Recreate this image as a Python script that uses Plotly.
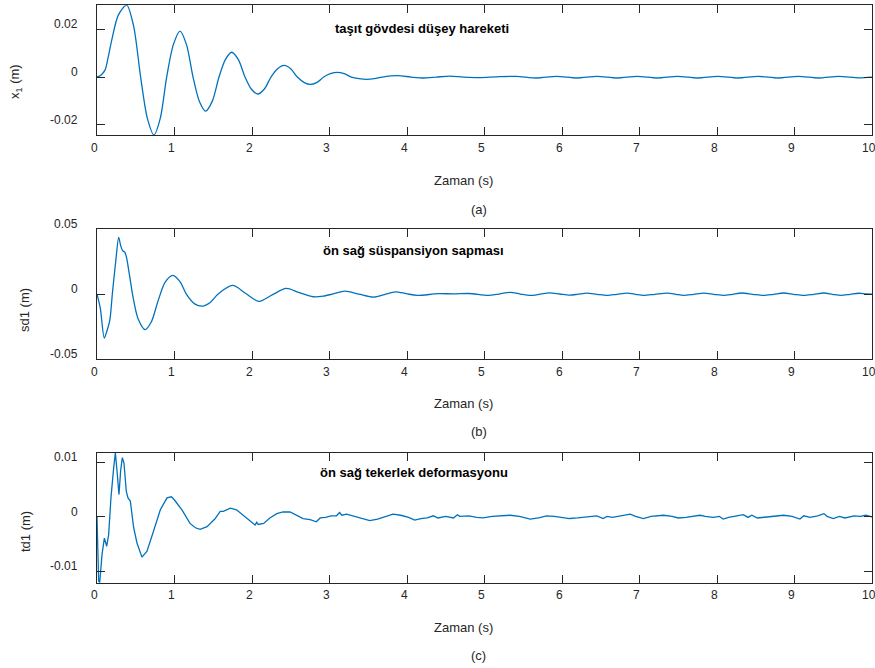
import plotly.graph_objects as go

# ---------------- data ----------------
# (a) taşıt gövdesi düşey hareketi : x1 (m)
t_a = [0, 0.05, 0.103, 0.145, 0.19, 0.275, 0.383, 0.473, 0.563, 0.649,
       0.735, 0.817, 0.899, 0.985, 1.071, 1.155, 1.239, 1.32, 1.402, 1.488,
       1.574, 1.656, 1.738, 1.824, 1.91, 1.99, 2.073, 2.16, 2.245, 2.33,
       2.417, 2.50, 2.585, 2.67, 2.75, 2.84, 2.925, 3.01, 3.10, 3.19,
       3.28, 3.38, 3.48, 3.58, 3.68, 3.88, 4.05, 4.21, 4.38, 4.55,
       4.73, 4.95, 5.15, 5.41, 5.67, 5.93, 6.19, 6.45, 6.71, 6.97,
       7.23, 7.49, 7.75, 8.01, 8.27, 8.53, 8.79, 9.05, 9.31, 9.57,
       9.83, 10.0]
x1 = [0, 0.0008, 0.0029, 0.0085, 0.0155, 0.0260, 0.0302, 0.0213, 0.0, -0.0172,
      -0.0243, -0.0172, 0.0, 0.0136, 0.0193, 0.0136, 0.0, -0.0101, -0.0143, -0.0101,
      0.0, 0.0073, 0.0104, 0.0073, 0.0, -0.0050, -0.0071, -0.0050, 0.0, 0.0035,
      0.0049, 0.0035, 0.0, -0.0022, -0.0031, -0.0022, 0.0, 0.0014, 0.0020, 0.0014,
      0.0, -0.0007, -0.0010, -0.0007, 0.0, 0.0006, 0.0, -0.0004, 0.0, 0.0004,
      0.0, -0.0002, 0.0001, 0.0003, -0.0004, 0.0003, -0.0004, 0.0003, -0.0004, 0.0003,
      -0.0004, 0.0003, -0.0004, 0.0003, -0.0004, 0.0003, -0.0004, 0.0003, -0.0004, 0.0003,
      -0.0003, 0.0]

# (b) ön sağ süspansiyon sapması : sd1 (m)
t_b = [0, 0.043, 0.094, 0.13, 0.165, 0.20, 0.245, 0.28, 0.305, 0.33,
       0.36, 0.38, 0.42, 0.465, 0.53, 0.62, 0.70, 0.79, 0.88, 0.98,
       1.075, 1.153, 1.26, 1.37, 1.46, 1.56, 1.75, 1.92, 2.09, 2.26,
       2.44, 2.60, 2.79, 2.92, 3.05, 3.20, 3.38, 3.57, 3.71, 3.85,
       3.99, 4.13, 4.40, 4.60, 4.80, 5.05, 5.19, 5.33, 5.46, 5.59,
       5.72, 5.84, 5.97, 6.10, 6.21, 6.32, 6.45, 6.58, 6.71, 6.84,
       6.95, 7.05, 7.20, 7.36, 7.47, 7.57, 7.70, 7.83, 7.96, 8.09,
       8.20, 8.32, 8.46, 8.60, 8.73, 8.86, 8.99, 9.12, 9.25, 9.38,
       9.49, 9.60, 9.72, 9.83, 9.92, 10.0]
sd1 = [0, -0.011, -0.0338, -0.028, -0.0202, 0.0015, 0.0272, 0.0438, 0.0375, 0.0336,
       0.0323, 0.0285, 0.0144, -0.0023, -0.019, -0.0274, -0.0215, -0.0048, 0.0092, 0.0144,
       0.0092, 0.0, -0.0075, -0.0092, -0.0065, 0.0, 0.0067, 0.0005, -0.0056, -0.0006,
       0.0044, 0.0014, -0.0020, -0.0015, 0.0002, 0.0023, 0.0, -0.0023, -0.0003, 0.0018,
       0.0004, -0.0010, 0.0004, 0.0002, 0.0005, -0.0010, 0.0001, 0.0013, 0.0001, -0.0010,
       0.0, 0.0010, 0.0001, -0.0008, 0.0, 0.0008, -0.0001, -0.0010, -0.0001, 0.0008,
       -0.0001, -0.0010, -0.0001, 0.0008, -0.0001, -0.0010, -0.0001, 0.0008, -0.0001, -0.0010,
       -0.0001, 0.0009, -0.0001, -0.0010, -0.0001, 0.0009, -0.0001, -0.0010, -0.0001, 0.0009,
       -0.0001, -0.0010, -0.0001, 0.0007, 0.0002, 0.0]

# (c) ön sağ tekerlek deformasyonu : td1 (m)
t_c = [0, 0.021, 0.035, 0.065, 0.095, 0.125, 0.15, 0.18, 0.215, 0.237,
       0.262, 0.284, 0.305, 0.327, 0.348, 0.378, 0.40, 0.43, 0.473, 0.516,
       0.58, 0.645, 0.73, 0.817, 0.903, 0.96, 1.0, 1.1, 1.2, 1.27,
       1.33, 1.42, 1.52, 1.56, 1.59, 1.63, 1.72, 1.80, 1.86, 1.93,
       2.0, 2.04, 2.06, 2.08, 2.15, 2.23, 2.32, 2.40, 2.49, 2.57,
       2.66, 2.75, 2.83, 2.88, 2.95, 3.02, 3.09, 3.13, 3.16, 3.22,
       3.30, 3.40, 3.52, 3.62, 3.72, 3.82, 3.92, 4.02, 4.10, 4.18,
       4.26, 4.34, 4.40, 4.50, 4.60, 4.65, 4.68, 4.80, 4.90, 4.98,
       5.10, 5.20, 5.33, 5.45, 5.59, 5.70, 5.80, 5.90, 6.0, 6.10,
       6.20, 6.35, 6.45, 6.53, 6.58, 6.65, 6.75, 6.88, 6.95, 7.05,
       7.15, 7.31, 7.42, 7.50, 7.60, 7.70, 7.78, 7.85, 7.95, 8.03,
       8.08, 8.15, 8.25, 8.34, 8.40, 8.45, 8.52, 8.60, 8.70, 8.86,
       8.97, 9.07, 9.12, 9.20, 9.30, 9.38, 9.42, 9.50, 9.58, 9.65,
       9.77, 9.85, 9.92, 10.0]
td1 = [0, -0.0118, -0.0121, -0.0069, -0.0039, -0.0054, -0.0033, 0.0035, 0.0090, 0.0118,
       0.0078, 0.0041, 0.0085, 0.0109, 0.0099, 0.0047, 0.0035, 0.0029, -0.0020, -0.0048,
       -0.0074, -0.0063, -0.0026, 0.0013, 0.0035, 0.0037, 0.0031, 0.0012, -0.0012, -0.0020,
       -0.0023, -0.0018, -0.0004, 0.0004, 0.0010, 0.0010, 0.0016, 0.0013, 0.0006, -0.0003,
       -0.0012, -0.0015, -0.0010, -0.0014, -0.0012, -0.0002, 0.0006, 0.0009, 0.0009, 0.0004,
       -0.0003, -0.0005, -0.0009, -0.0002, -0.0001, 0.0002, 0.0002, 0.0008, 0.0003, 0.0005,
       0.0002, -0.0003, -0.0007, -0.0004, 0.0001, 0.0005, 0.0003, -0.0001, -0.0006, -0.0003,
       -0.0002, 0.0002, -0.0002, 0.0001, -0.0002, 0.0004, 0.0001, 0.0002, -0.0001, -0.0002,
       0.0001, 0.0002, 0.0003, 0.0001, -0.0004, -0.0002, 0.0002, 0.0001, -0.0001, -0.0003,
       -0.0002, 0.0001, 0.0002, -0.0003, 0.0001, -0.0001, 0.0002, 0.0005, 0.0001, -0.0003,
       0.0001, 0.0003, 0.0001, -0.0002, -0.0001, 0.0001, 0.0003, 0.0001, -0.0001, 0.0001,
       -0.0004, -0.0001, 0.0001, 0.0004, -0.0001, 0.0003, -0.0002, -0.0001, 0.0001, 0.0003,
       0.0001, -0.0004, 0.0002, -0.0001, 0.0002, 0.0006, 0.0001, -0.0003, 0.0001, -0.0002,
       0.0002, 0.0001, 0.0003, 0.0]

x_ticks = [0, 1, 2, 3, 4, 5, 6, 7, 8, 9, 10]
x_ticklabels = ["0", "1", "2", "3", "4", "5", "6", "7", "8", "9", "10"]
y_ticks_a = [-0.02, 0, 0.02]
y_ticks_b = [-0.05, 0, 0.05]
y_ticks_c = [-0.01, 0, 0.01]
y_ticklabels_a = ["-0.02", "0", "0.02"]
y_ticklabels_b = ["-0.05", "0", "0.05"]
y_ticklabels_c = ["-0.01", "0", "0.01"]
y_ranges = [[-0.0243, 0.0301], [-0.05, 0.05], [-0.0121, 0.0118]]

panel_titles = ["taşıt gövdesi düşey hareketi", "ön sağ süspansiyon sapması",
                "ön sağ tekerlek deformasyonu"]
y_titles = ["x<sub>1</sub> (m)", "sd1 (m)", "td1 (m)"]
x_title = "Zaman (s)"
captions = ["(a)", "(b)", "(c)"]

# ---------------- layout helpers ----------------
W, H = 875, 668
def px(x):
    return x / W
def py(y):
    return 1 - y / H

FONT = "Arial, Liberation Sans, Helvetica, sans-serif"
TXT = "#262626"
LINE = "#0072BD"

# panel pixel boxes: (top, bottom)
boxes = [(5.3, 135), (229.3, 359), (452.7, 582.7)]
x_left, x_right = 97, 872

fig = go.Figure()
series = [(t_a, x1, "spline", 0.8), (t_b, sd1, "spline", 0.8), (t_c, td1, "linear", 0)]
for i, (tt, vv, shape, sm) in enumerate(series):
    sfx = "" if i == 0 else str(i + 1)
    line = dict(color=LINE, width=1.3, shape=shape)
    if shape == "spline":
        line["smoothing"] = sm
    fig.add_trace(go.Scatter(x=tt, y=vv, mode="lines", line=line,
                             xaxis="x" + sfx, yaxis="y" + sfx, showlegend=False,
                             cliponaxis=True))

y_tick_sets = [(y_ticks_a, y_ticklabels_a), (y_ticks_b, y_ticklabels_b),
               (y_ticks_c, y_ticklabels_c)]

annotations = []
layout = dict(width=W, height=H, margin=dict(l=0, r=0, t=0, b=0),
              paper_bgcolor="white", plot_bgcolor="white",
              font=dict(family=FONT, size=12, color=TXT), showlegend=False)

x_ticklabel_y = [148, 372, 595]
x_title_y = [180, 403, 627]
caption_y = [209, 431, 655]
title_pos = [(421.5, 28), (413.5, 250), (414, 472)]
ytitle_pos = [(15, 82), (25, 310), (25, 532)]

for i in range(3):
    sfx = "" if i == 0 else str(i + 1)
    top, bot = boxes[i]
    layout["xaxis" + sfx] = dict(
        domain=[px(x_left), px(x_right)], anchor="y" + sfx,
        range=[0, 10], tickvals=x_ticks, ticks="inside", ticklen=8,
        tickwidth=1, tickcolor=TXT, showline=True, linecolor=TXT, linewidth=1,
        mirror="ticks", showgrid=False, zeroline=False, showticklabels=False)
    yt, yl = y_tick_sets[i]
    layout["yaxis" + sfx] = dict(
        domain=[py(bot), py(top)], anchor="x" + sfx,
        range=y_ranges[i], tickvals=yt, ticks="inside", ticklen=8,
        tickwidth=1, tickcolor=TXT, showline=True, linecolor=TXT, linewidth=1,
        mirror="ticks", showgrid=False, zeroline=False, showticklabels=False)
    # x tick labels
    for v, lab in zip(x_ticks, x_ticklabels):
        annotations.append(dict(text=lab, xref="x" + sfx, yref="paper",
                                x=v, y=py(x_ticklabel_y[i]), xanchor="center",
                                yanchor="middle", xshift=-3, showarrow=False,
                                font=dict(family=FONT, size=12, color=TXT)))
    # y tick labels (slightly raised, as in the reference)
    for v, lab in zip(yt, yl):
        annotations.append(dict(text=lab, xref="paper", yref="y" + sfx,
                                x=px(80), y=v, xanchor="right", yanchor="middle",
                                yshift=5, showarrow=False,
                                font=dict(family=FONT, size=12, color=TXT)))
    # in-plot bold title
    tx, ty = title_pos[i]
    annotations.append(dict(text="<b>" + panel_titles[i] + "</b>", xref="paper", yref="paper",
                            x=px(tx), y=py(ty), xanchor="center", yanchor="middle",
                            showarrow=False, font=dict(family=FONT, size=13, color="black")))
    # y title
    yx, yy = ytitle_pos[i]
    annotations.append(dict(text=y_titles[i], xref="paper", yref="paper",
                            x=px(yx), y=py(yy), xanchor="center", yanchor="middle",
                            textangle=-90, showarrow=False,
                            font=dict(family=FONT, size=13, color=TXT)))
    # x title
    annotations.append(dict(text=x_title, xref="paper", yref="paper",
                            x=px(463.5), y=py(x_title_y[i]), xanchor="center",
                            yanchor="middle", showarrow=False,
                            font=dict(family=FONT, size=13, color=TXT)))
    # caption
    annotations.append(dict(text=captions[i], xref="paper", yref="paper",
                            x=px(479), y=py(caption_y[i]), xanchor="center",
                            yanchor="middle", showarrow=False,
                            font=dict(family=FONT, size=13, color=TXT)))

layout["annotations"] = annotations
fig.update_layout(**layout)
fig.write_html("out.html", config={"displayModeBar": False},
               post_script="document.body.style.margin='0px';document.body.style.overflow='hidden';")
